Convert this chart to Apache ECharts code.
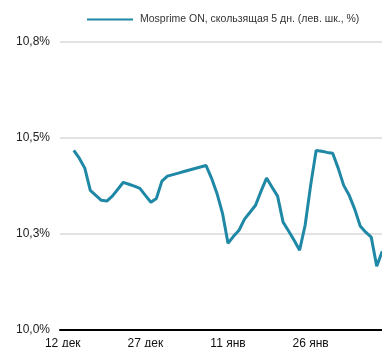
<!DOCTYPE html>
<html>
<head>
<meta charset="utf-8">
<script src="https://cdn.jsdelivr.net/npm/echarts@6/dist/echarts.min.js"></script>
<style>
  html, body { margin: 0; padding: 0; background: #fff; }
  #main { width: 382px; height: 347px; }
</style>
</head>
<body>
<div id="main"></div>
<script>
// дни с 12 дек по 8 фев
const days = [
  '12 дек', '13 дек', '14 дек', '15 дек', '16 дек', '17 дек', '18 дек', '19 дек', '20 дек', '21 дек',
  '22 дек', '23 дек', '24 дек', '25 дек', '26 дек', '27 дек', '28 дек', '29 дек', '30 дек', '31 дек',
  '1 янв', '2 янв', '3 янв', '4 янв', '5 янв', '6 янв', '7 янв', '8 янв', '9 янв', '10 янв',
  '11 янв', '12 янв', '13 янв', '14 янв', '15 янв', '16 янв', '17 янв', '18 янв', '19 янв', '20 янв',
  '21 янв', '22 янв', '23 янв', '24 янв', '25 янв', '26 янв', '27 янв', '28 янв', '29 янв', '30 янв',
  '31 янв', '1 фев', '2 фев', '3 фев', '4 фев', '5 фев', '6 фев', '7 фев', '8 фев'
]
const mosprime = [
  null, null, 10.467, 10.447, 10.421, 10.363, 10.350, 10.337, 10.335, 10.348,
  10.366, 10.384, 10.379, 10.374, 10.368, 10.350, 10.332, 10.342, 10.387, 10.400,
  10.404, 10.408, 10.412, 10.416, 10.420, 10.424, 10.428, 10.395, 10.355, 10.303,
  10.225, 10.243, 10.259, 10.288, 10.306, 10.324, 10.361, 10.395, 10.371, 10.348,
  10.280, 10.257, 10.233, 10.207, 10.272, 10.376, 10.467, 10.465, 10.462, 10.460,
  10.421, 10.376, 10.350, 10.314, 10.270, 10.254, 10.241, 10.165, 10.204
]
const seriesName = 'Mosprime ON, скользящая 5 дн. (лев. шк., %)'

let myChart = echarts.init(document.getElementById('main'))
myChart.setOption({
    animation: false,
    textStyle: { fontFamily: '"Liberation Sans", Arial, sans-serif' },
    grid: { left: 60, top: 42, width: 325, bottom: 17.5, outerBoundsMode: 'none' },
    legend: {
        data: [{ name: seriesName, icon: 'rect' }],
        left: 87,
        top: 14,
        padding: 0,
        itemWidth: 46,
        itemHeight: 2,
        textStyle: { fontSize: 10.5, color: '#333', padding: [0, 0, 0, 2] }
    },
    xAxis: {
        type: 'category',
        data: days,
        boundaryGap: true,
        axisLine: { lineStyle: { color: '#000', width: 2 } },
        axisTick: { interval: 14, length: 4, lineStyle: { color: '#000' } },
        axisLabel: { interval: 14, fontSize: 12, color: '#111', margin: 8 },
        splitLine: { show: false }
    },
    yAxis: {
        type: 'value',
        min: 10,
        max: 10.75,
        interval: 0.25,
        axisLine: { show: false },
        axisTick: { show: false },
        axisLabel: {
            fontSize: 12,
            color: '#222',
            margin: 10,
            formatter: v => v.toFixed(1).replace('.', ',') + '%'
        },
        splitLine: { lineStyle: { color: '#d9d9d9', width: 1.5 } }
    },
    series: [{
        name: seriesName,
        type: 'line',
        data: mosprime,
        symbol: 'none',
        lineStyle: { color: '#1f88a6', width: 3 },
        itemStyle: { color: '#1f88a6' }
    }]
})
</script>
</body>
</html>
